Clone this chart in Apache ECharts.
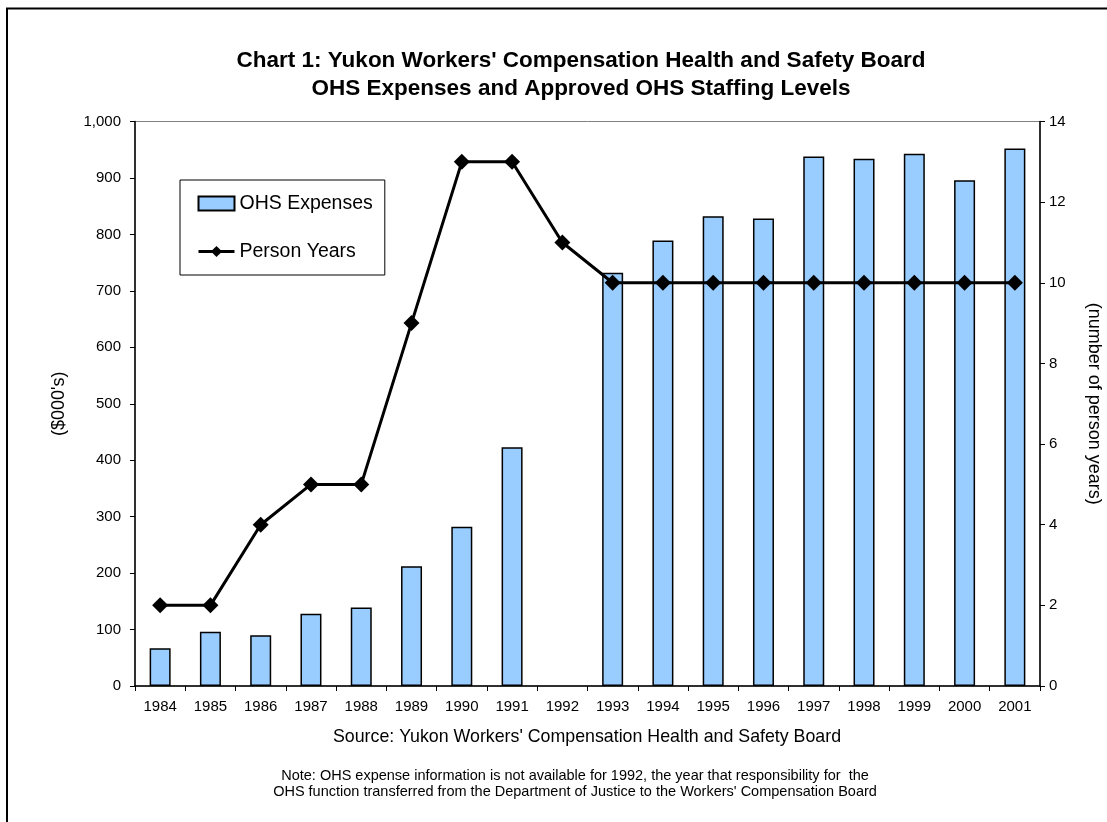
<!DOCTYPE html>
<html>
<head>
<meta charset="utf-8">
<script src="https://cdn.jsdelivr.net/npm/echarts@6/dist/echarts.min.js"></script>
<style>
html,body{margin:0;padding:0;background:#fff;}
#chart{width:1107px;height:822px;}
</style>
</head>
<body>
<div id="chart"></div>
<script>
var years = ['1984','1985','1986','1987','1988','1989','1990','1991','1992','1993','1994','1995','1996','1997','1998','1999','2000','2001'];
var ohsExpenses = [67, 96, 90, 128, 139, 212, 282, 423, null, 732, 789, 832, 828, 938, 934, 943, 896, 952];
var personYears = [2, 2, 4, 5, 5, 9, 13, 13, 11, 10, 10, 10, 10, 10, 10, 10, 10, 10];
var leftTicks = {min: 0, max: 1000, interval: 100};
var rightTicks = {min: 0, max: 14, interval: 2};
var titleLines = ["Chart 1: Yukon Workers' Compensation Health and Safety Board", "OHS Expenses and Approved OHS Staffing Levels"];
var sourceText = "Source: Yukon Workers' Compensation Health and Safety Board";
var noteLines = ["Note: OHS expense information is not available for 1992, the year that responsibility for  the", "OHS function transferred from the Department of Justice to the Workers' Compensation Board"];

var FONT = '"Liberation Sans", Arial, sans-serif';
var chart = echarts.init(document.getElementById('chart'), null, {renderer: 'canvas'});

var option = {
  backgroundColor: '#ffffff',
  animation: false,
  textStyle: {fontFamily: FONT, color: '#000'},
  grid: {left: 135, right: 67, top: 121.5, bottom: 136, outerBoundsMode: 'none', containLabel: false,
         show: true, borderColor: '#808080', borderWidth: 1, backgroundColor: 'transparent'},
  legend: {
    left: 180, top: 180,
    orient: 'vertical',
    borderColor: '#000', borderWidth: 1,
    padding: [13.5, 12, 13.5, 17],
    itemGap: 28,
    itemWidth: 36, itemHeight: 14,
    backgroundColor: '#fff',
    textStyle: {fontFamily: FONT, fontSize: 19.5, color: '#000', lineHeight: 20},
    data: [
      {name: 'OHS Expenses', icon: 'rect'},
      {name: 'Person Years', lineStyle: {width: 3, color: '#000'}}
    ]
  },
  xAxis: {
    type: 'category',
    data: years,
    boundaryGap: true,
    axisLine: {show: true, lineStyle: {color: '#000', width: 1.5}},
    axisTick: {show: true, length: 5, lineStyle: {color: '#000', width: 1}},
    axisLabel: {fontFamily: FONT, fontSize: 15, color: '#000', margin: 13},
    splitLine: {show: false}
  },
  yAxis: [{
    type: 'value',
    min: leftTicks.min, max: leftTicks.max, interval: leftTicks.interval,
    name: "($000's)",
    nameLocation: 'middle', nameGap: 67, nameRotate: 90,
    nameTextStyle: {fontFamily: FONT, fontSize: 18, color: '#000'},
    axisLine: {show: true, lineStyle: {color: '#000', width: 1.5}},
    axisTick: {show: true, length: 5, lineStyle: {color: '#000'}},
    axisLabel: {fontFamily: FONT, fontSize: 15, color: '#000', margin: 14,
      formatter: function (v) { return v.toLocaleString('en-US'); }},
    splitLine: {show: false}
  }, {
    type: 'value',
    position: 'right',
    min: rightTicks.min, max: rightTicks.max, interval: rightTicks.interval,
    name: '(number of person years)',
    nameLocation: 'middle', nameGap: 45, nameRotate: -90,
    nameTextStyle: {fontFamily: FONT, fontSize: 18, color: '#000'},
    axisLine: {show: true, lineStyle: {color: '#000', width: 1.5}},
    axisTick: {show: true, length: 5, lineStyle: {color: '#000'}},
    axisLabel: {fontFamily: FONT, fontSize: 15, color: '#000', margin: 9},
    splitLine: {show: false}
  }],
  series: [{
    name: 'OHS Expenses',
    type: 'bar',
    yAxisIndex: 0,
    data: ohsExpenses,
    barWidth: 21,
    itemStyle: {color: '#99CCFF', borderColor: '#000', borderWidth: 1.5},
    z: 2
  }, {
    name: 'Person Years',
    type: 'line',
    yAxisIndex: 1,
    data: personYears,
    symbol: 'diamond',
    symbolSize: 16,
    lineStyle: {color: '#000', width: 3},
    itemStyle: {color: '#000'},
    z: 3
  }],
  graphic: [
    {type: 'rect', x: 7, y: 8.5, shape: {x: 0, y: 0, width: 1120, height: 830}, style: {fill: 'none', stroke: '#000', lineWidth: 2}, silent: true, z: 100},
    {type: 'text', x: 581, y: 61, style: {text: titleLines[0], font: 'bold 22.5px ' + FONT, fill: '#000', textAlign: 'center', textVerticalAlign: 'middle'}},
    {type: 'text', x: 581, y: 89, style: {text: titleLines[1], font: 'bold 22.5px ' + FONT, fill: '#000', textAlign: 'center', textVerticalAlign: 'middle'}},
    {type: 'text', x: 587, y: 737, style: {text: sourceText, font: '17.8px ' + FONT, fill: '#000', textAlign: 'center', textVerticalAlign: 'middle'}},
    {type: 'text', x: 575, y: 776, style: {text: noteLines[0], font: '14.5px ' + FONT, fill: '#000', textAlign: 'center', textVerticalAlign: 'middle'}},
    {type: 'text', x: 575, y: 792, style: {text: noteLines[1], font: '14.5px ' + FONT, fill: '#000', textAlign: 'center', textVerticalAlign: 'middle'}}
  ]
};
chart.setOption(option);
</script>
</body>
</html>
